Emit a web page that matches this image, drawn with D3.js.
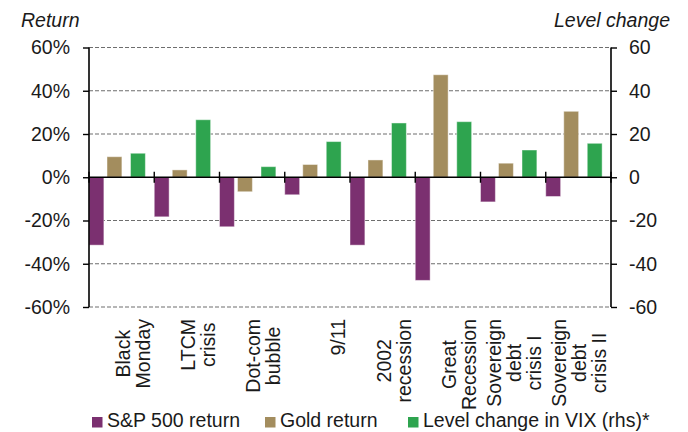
<!DOCTYPE html>
<html>
<head>
<meta charset="utf-8">
<script src="https://cdn.jsdelivr.net/npm/d3@7"></script>
<style>
  html, body { margin: 0; padding: 0; background: #fff; }
  svg { display: block; font-family: "Liberation Sans", Arial, sans-serif; }
</style>
</head>
<body>
<svg id="chart" width="688" height="432"></svg>
<script>
// ---- data ----
const categories = ["Black\nMonday", "LTCM\ncrisis", "Dot-com\nbubble", "9/11", "2002\nrecession",
                    "Great\nRecession", "Sovereign\ndebt\ncrisis I", "Sovereign\ndebt\ncrisis II"];
const sp500Return = [-31.4, -18.3, -22.9, -8.1, -31.4, -47.7, -11.4, -8.9];
const goldReturn  = [9.5, 3.4, -6.7, 5.9, 8.0, 47.4, 6.5, 30.5];
const vixChange   = [11.1, 26.6, 4.9, 16.5, 25.1, 25.7, 12.6, 15.7];
const seriesNames = ["S&P 500 return", "Gold return", "Level change in VIX (rhs)*"];
const leftTicks  = [-60, -40, -20, 0, 20, 40, 60];
const rightTicks = [-60, -40, -20, 0, 20, 40, 60];

// ---- layout ----
const svg = d3.select("#chart");
const L = 89, R = 611, T = 47.5, B = 307;
const colors = ["#7b3070", "#a38d5e", "#2ea44f"];
const textColor = "#1a1a1a";
const fs = 19.5;

const x0 = d3.scaleBand().domain(categories).range([L, R]).paddingInner(0).paddingOuter(0);
const bw = x0.bandwidth();
const x1 = d3.scaleOrdinal().domain(seriesNames).range([0.0, 0.276, 0.636]);
const barW = 0.228 * bw;
const yL = d3.scaleLinear().domain([-60, 60]).range([B, T]);
const yR = d3.scaleLinear().domain([-60, 60]).range([B, T]);

// gridlines
svg.append("g").selectAll("line")
  .data(leftTicks.filter(d => d !== 0))
  .join("line")
  .attr("x1", L).attr("x2", R)
  .attr("y1", d => yL(d)).attr("y2", d => yL(d))
  .attr("stroke", "#6e6e6e").attr("stroke-width", 1.1)
  .attr("stroke-dasharray", "4,2");

// bars
const series = [sp500Return, goldReturn, vixChange];
const scales = [yL, yL, yR];
series.forEach((vals, si) => {
  const ys = scales[si];
  svg.append("g").selectAll("rect")
    .data(vals.map((v, i) => ({ v, c: categories[i] })))
    .join("rect")
    .attr("x", d => x0(d.c) + x1(seriesNames[si]) * bw)
    .attr("width", barW)
    .attr("y", d => ys(Math.max(0, d.v)))
    .attr("height", d => Math.abs(ys(d.v) - ys(0)))
    .attr("fill", colors[si])
    .attr("stroke", "#ffffff").attr("stroke-opacity", 0.45).attr("stroke-width", 1);
});

// left axis
const axL = svg.append("g").attr("transform", `translate(${L},0)`)
  .call(d3.axisLeft(yL).tickValues(leftTicks).tickSize(6).tickPadding(13).tickFormat(d => d + "%"));
// right axis
const axR = svg.append("g").attr("transform", `translate(${R},0)`)
  .call(d3.axisRight(yR).tickValues(rightTicks).tickSize(6).tickPadding(12).tickFormat(d => String(d)));
[axL, axR].forEach(ax => {
  ax.select(".domain").attr("stroke", "#000").attr("stroke-width", 1.6)
    .attr("d", null);
  ax.selectAll(".tick line").attr("stroke", "#000").attr("stroke-width", 1.4);
  ax.selectAll(".tick text").attr("fill", textColor).style("font-size", fs + "px")
    .attr("font-family", "'Liberation Sans', Arial, sans-serif");
});
axL.select(".domain").remove();
axR.select(".domain").remove();
svg.append("line").attr("x1", L).attr("x2", L).attr("y1", T).attr("y2", B)
  .attr("stroke", "#000").attr("stroke-width", 1.6);
svg.append("line").attr("x1", R).attr("x2", R).attr("y1", T).attr("y2", B)
  .attr("stroke", "#000").attr("stroke-width", 1.6);

// zero line with category ticks
svg.append("line").attr("x1", L).attr("x2", R).attr("y1", yL(0)).attr("y2", yL(0))
  .attr("stroke", "#000").attr("stroke-width", 1.6);
const boundaries = categories.map(c => x0(c)).concat([R]);
svg.append("g").selectAll("line").data(boundaries).join("line")
  .attr("x1", d => d).attr("x2", d => d)
  .attr("y1", yL(0) - 5.5).attr("y2", yL(0) + 5.5)
  .attr("stroke", "#000").attr("stroke-width", 1.4);

// category labels (rotated, multi-line)
const lineH = 20;
categories.forEach(c => {
  const lines = c.split("\n");
  const g = svg.append("g");
  const texts = lines.map((ln, i) => g.append("text")
    .attr("x", 0)
    .attr("y", -(lines.length - 1 - i) * lineH)
    .attr("text-anchor", "middle")
    .attr("fill", textColor)
    .style("font-size", fs + "px")
    .text(ln));
  const maxLen = d3.max(texts, t => t.node().getComputedTextLength());
  const xc = x0(c) + bw / 2 + 28;
  const yc = 319 + maxLen / 2;
  g.attr("transform", `translate(${xc},${yc}) rotate(-90)`);
});

// axis titles
svg.append("text").attr("x", 21).attr("y", 27).attr("fill", textColor)
  .style("font-size", fs + "px").style("font-style", "italic").text("Return");
svg.append("text").attr("x", 670).attr("y", 27).attr("text-anchor", "end").attr("fill", textColor)
  .style("font-size", fs + "px").style("font-style", "italic").text("Level change");

// legend
const legendX = [92, 265, 408];
const leg = svg.append("g");
seriesNames.forEach((s, i) => {
  leg.append("rect").attr("x", legendX[i]).attr("y", 417).attr("width", 10.5).attr("height", 10.5)
    .attr("fill", colors[i]);
  leg.append("text").attr("x", legendX[i] + 15).attr("y", 427).attr("fill", textColor)
    .style("font-size", fs + "px").text(s);
});
</script>
</body>
</html>
